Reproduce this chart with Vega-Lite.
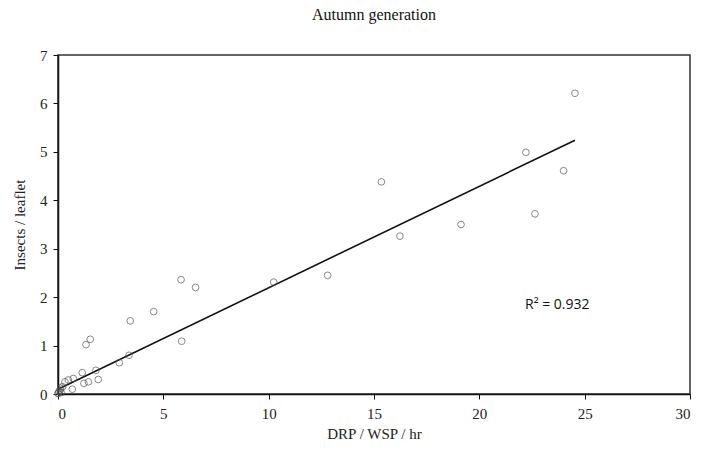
{
  "$schema": "https://vega.github.io/schema/vega-lite/v6.json",
  "autosize": {"type": "none"},
  "width": 632,
  "height": 339,
  "padding": {"left": 58, "top": 55, "right": 16, "bottom": 56},
  "background": "white",
  "config": {
    "view": {"stroke": "#333333", "strokeWidth": 1.5},
    "axis": {
      "grid": false,
      "domainColor": "#111111",
      "domainWidth": 1.5,
      "tickColor": "#111111",
      "tickSize": 5,
      "labelFont": "Liberation Serif",
      "labelFontSize": 15,
      "labelColor": "#222222",
      "titleFont": "Liberation Serif",
      "titleFontSize": 15,
      "titleFontWeight": "normal",
      "titleColor": "#222222"
    },
    "title": {"font": "Liberation Serif", "fontSize": 16, "fontWeight": "normal", "color": "#111111"}
  },
  "title": {"text": "Autumn generation", "offset": 25, "anchor": "middle"},
  "datasets": {
    "points": [
      {"x": 24.54, "y": 6.21},
      {"x": 22.21, "y": 4.99},
      {"x": 24.0, "y": 4.61},
      {"x": 22.64, "y": 3.72},
      {"x": 19.13, "y": 3.5},
      {"x": 15.35, "y": 4.38},
      {"x": 16.23, "y": 3.26},
      {"x": 12.8, "y": 2.45},
      {"x": 10.24, "y": 2.31},
      {"x": 5.84, "y": 2.36},
      {"x": 6.53, "y": 2.2},
      {"x": 4.54, "y": 1.7},
      {"x": 3.43, "y": 1.51},
      {"x": 5.87, "y": 1.09},
      {"x": 1.53, "y": 1.13},
      {"x": 1.33, "y": 1.02},
      {"x": 3.37, "y": 0.8},
      {"x": 2.91, "y": 0.645},
      {"x": 1.8, "y": 0.49},
      {"x": 1.15, "y": 0.44},
      {"x": 0.73, "y": 0.32},
      {"x": 0.49, "y": 0.29},
      {"x": 0.33, "y": 0.25},
      {"x": 1.91, "y": 0.3},
      {"x": 1.44, "y": 0.25},
      {"x": 1.23, "y": 0.22},
      {"x": 0.68, "y": 0.1},
      {"x": 0.22, "y": 0.15},
      {"x": 0.1, "y": 0.08},
      {"x": 0.0, "y": 0.01},
      {"x": 0.05, "y": 0.05},
      {"x": 0.12, "y": 0.12},
      {"x": 0.15, "y": 0.03},
      {"x": 0.02, "y": 0.02}
    ],
    "fit": [
      {"x": 0.0, "y": 0.1},
      {"x": 24.54, "y": 5.24}
    ],
    "label": [
      {"x": 23.7, "y": 1.83, "text": "R² = 0.932"}
    ]
  },
  "layer": [
    {
      "data": {"name": "fit"},
      "mark": {"type": "line", "color": "#111111", "strokeWidth": 1.6},
      "encoding": {
        "x": {"field": "x", "type": "quantitative", "scale": {"domain": [0, 30], "nice": false},
              "axis": {"title": "DRP / WSP / hr", "values": [0, 5, 10, 15, 20, 25, 30], "labelPadding": 7, "titlePadding": 5}},
        "y": {"field": "y", "type": "quantitative", "scale": {"domain": [0, 7], "nice": false},
              "axis": {"title": "Insects / leaflet", "values": [0, 1, 2, 3, 4, 5, 6, 7], "labelPadding": 6, "titlePadding": 12}}
      }
    },
    {
      "data": {"name": "points"},
      "mark": {"type": "point", "shape": "circle", "filled": false, "stroke": "#555555", "strokeWidth": 1, "size": 45, "clip": false},
      "encoding": {
        "x": {"field": "x", "type": "quantitative"},
        "y": {"field": "y", "type": "quantitative"}
      }
    },
    {
      "data": {"name": "label"},
      "mark": {"type": "text", "font": "Open Sans", "fontSize": 14, "color": "#111111", "align": "center", "baseline": "middle"},
      "encoding": {
        "x": {"field": "x", "type": "quantitative"},
        "y": {"field": "y", "type": "quantitative"},
        "text": {"field": "text"}
      }
    }
  ]
}
